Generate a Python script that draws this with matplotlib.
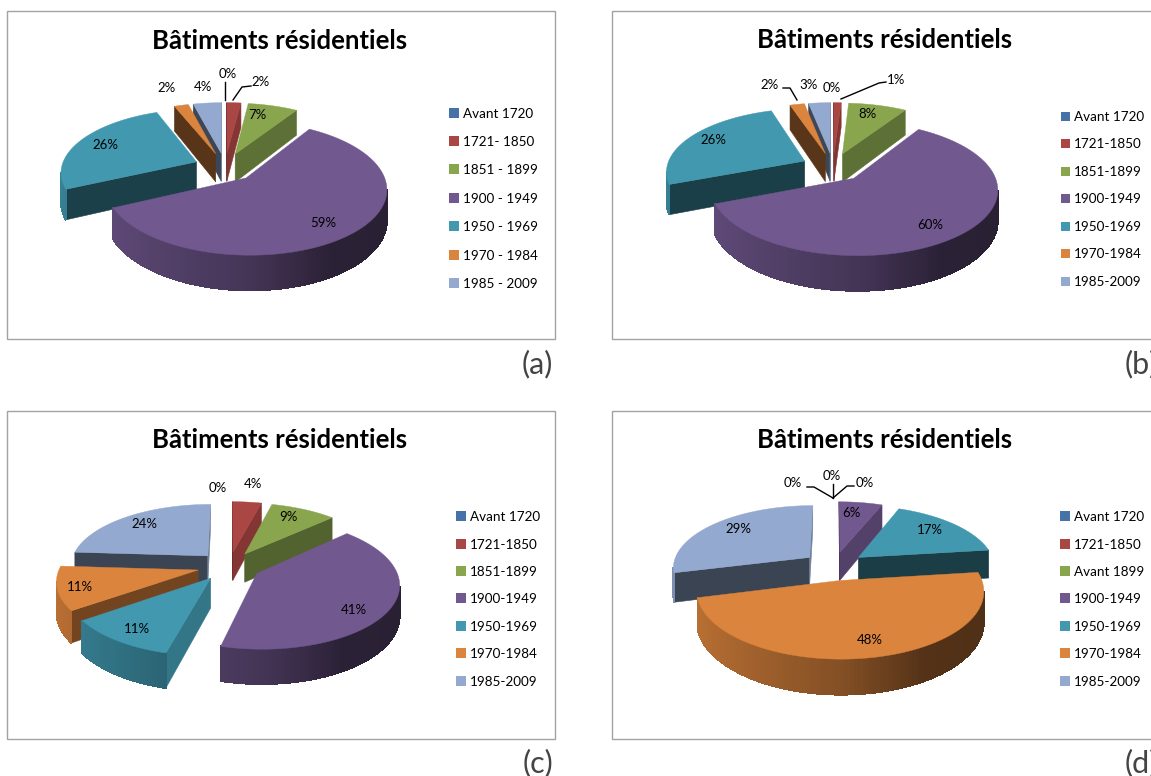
import numpy as np
import matplotlib
matplotlib.use('Agg')
import matplotlib.pyplot as plt
from matplotlib.patches import Rectangle

plt.rcParams['font.family'] = ['Lato', 'DejaVu Sans']

colors = ['#4572a7', '#aa4643', '#89a54e', '#71588f', '#4198af', '#db843d', '#93a9cf']

values_a = [0, 2, 7, 59, 26, 2, 4]
values_b = [0, 1, 8, 60, 26, 2, 3]
values_c = [0, 4, 9, 41, 11, 11, 24]
values_d = [0, 0, 0, 6, 17, 48, 29]

legend_a = ['Avant 1720', '1721- 1850', '1851 - 1899', '1900 - 1949', '1950 - 1969', '1970 - 1984', '1985 - 2009']
legend_b = ['Avant 1720', '1721-1850', '1851-1899', '1900-1949', '1950-1969', '1970-1984', '1985-2009']
legend_c = ['Avant 1720', '1721-1850', '1851-1899', '1900-1949', '1950-1969', '1970-1984', '1985-2009']
legend_d = ['Avant 1720', '1721-1850', 'Avant 1899', '1900-1949', '1950-1969', '1970-1984', '1985-2009']

title = 'Bâtiments résidentiels'

# pie layout, all in pixels of the final image
PERSP = 0.15
EXPLODE = 0.23
DEPTH = 29

panels = [
    dict(values=values_a, legend=legend_a, letter='(a)', frame=(7, 11, 548, 328), title_x=280, title_y=41,
         center=(225, 167), rx=135, ry=62,
         swatch_x=449, swatch=10, legend_y=[114, 142, 170, 199, 227, 256, 284],
         letter_xy=(553, 364), letter_ha='right',
         label_xy=[(228, 74), (261, 82), (257, 115), (323, 223), (105, 145), (167, 88), (203, 87)],
         leaders={0: [(225, 82), (225, 100)], 1: [(251, 86), (242, 87), (233, 100)]}),
    dict(values=values_b, legend=legend_b, letter='(b)', frame=(612, 11, 560, 328), title_x=885, title_y=40,
         center=(833, 167), rx=138, ry=62,
         swatch_x=1061, swatch=9, legend_y=[117, 144, 172, 199, 227, 254, 282],
         letter_xy=(1125, 364), letter_ha='left',
         label_xy=[(832, 88), (896, 80), (868, 114), (930, 225), (713, 140), (770, 85), (809, 85)],
         leaders={1: [(886, 82), (879, 83), (841, 99)], 5: [(783, 88), (790, 88), (797, 100)]}),
    dict(values=values_c, legend=legend_c, letter='(c)', frame=(7, 411, 548, 328), title_x=280, title_y=440,
         center=(229, 566), rx=138, ry=62,
         swatch_x=456, swatch=10, legend_y=[517, 545, 572, 599, 627, 654, 682],
         letter_xy=(553, 763), letter_ha='right',
         label_xy=[(218, 488), (253, 484), (288, 517), (354, 610), (137, 629), (80, 587), (144, 524)],
         leaders={}),
    dict(values=values_d, legend=legend_d, letter='(d)', frame=(612, 411, 560, 328), title_x=885, title_y=440,
         center=(834, 566), rx=137, ry=62,
         swatch_x=1060, swatch=10, legend_y=[517, 545, 572, 599, 627, 654, 682],
         letter_xy=(1125, 763), letter_ha='left',
         label_xy=[(793, 483), (832, 476), (865, 483), (851, 513), (930, 530), (870, 640), (738, 529)],
         leaders={0: [(807, 487), (814, 487), (833, 498)],
                  1: [(833, 484), (833, 498)],
                  2: [(854, 486), (847, 486), (833, 498)]}),
]


def darken(color, f):
    r, g, b = matplotlib.colors.to_rgb(color)
    return (r * f, g * f, b * f)


def cut_shade(phi):
    return np.interp(phi % 360, [0, 104, 122, 137, 144, 155, 166, 248, 360],
                     [0.6, 0.78, 0.68, 0.6, 0.52, 0.42, 0.4, 0.4, 0.6])


def wall_shade(theta):
    return np.interp(np.sin(np.radians(theta)), [-1, 0, 0.5, 1], [0.85, 0.6, 0.38, 0.36])


def project(u, v, z, p):
    s = 1 + PERSP * v
    cx, cy = p['center']
    return cx + p['rx'] * u / s, cy - p['ry'] * v / s + z * DEPTH / s


def side_face(a, b, p):
    # a side face between two points of the top rim, None when it faces away
    pts = [project(a[0], a[1], 0, p), project(b[0], b[1], 0, p),
           project(b[0], b[1], 1, p), project(a[0], a[1], 1, p)]
    xs = np.array([q[0] for q in pts])
    ys = np.array([q[1] for q in pts])
    area = np.sum(xs * np.roll(ys, -1) - np.roll(xs, -1) * ys)
    return (xs, ys) if area < 0 else None


def draw_slice(ax, t1, t2, color, p):
    mid = np.radians((t1 + t2) / 2)
    ou, ov = EXPLODE * np.sin(mid), EXPLODE * np.cos(mid)
    thetas = np.linspace(t1, t2, max(3, int((t2 - t1) / 1.5) + 1))
    rim = [(ou + np.sin(np.radians(t)), ov + np.cos(np.radians(t))) for t in thetas]
    apex = (ou, ov)

    # the two cut faces
    for a, b, phi in [(apex, rim[0], t1 - 90), (rim[-1], apex, t2 + 90)]:
        face = side_face(a, b, p)
        if face is not None:
            c = darken(color, cut_shade(phi))
            ax.fill(face[0], face[1], color=c, lw=0.4, zorder=3)

    # outer wall, one thin strip per step for the shading
    # no antialiasing here or the strips show as stripes
    for i in range(len(rim) - 1):
        face = side_face(rim[i], rim[i + 1], p)
        if face is not None:
            c = darken(color, wall_shade((thetas[i] + thetas[i + 1]) / 2))
            ax.fill(face[0], face[1], color=c, lw=0.6, antialiased=False, zorder=3)

    top = [project(u, v, 0, p) for u, v in [apex] + rim]
    ax.fill([q[0] for q in top], [q[1] for q in top], color=color, lw=0.3, zorder=3)


def draw_panel(ax, p):
    x, y, w, h = p['frame']
    ax.add_patch(Rectangle((x, y), w, h, fc='white', ec='#a3a3a3', lw=1.0, zorder=1))
    ax.text(p['title_x'], p['title_y'], title, fontsize=18.5, fontweight='bold',
            ha='center', va='center', color='black', zorder=5)

    vals = np.array(p['values'], dtype=float)
    edges = np.concatenate([[0], np.cumsum(vals)]) / vals.sum() * 360
    slices = [(edges[i], edges[i + 1], colors[i]) for i in range(len(vals)) if vals[i] > 0]
    # paint from the back of the pie to the front
    slices.sort(key=lambda s: -np.cos(np.radians((s[0] + s[1]) / 2)))
    for t1, t2, c in slices:
        draw_slice(ax, t1, t2, c, p)

    for i, val in enumerate(p['values']):
        lx, ly = p['label_xy'][i]
        ax.text(lx, ly, f'{val}%', fontsize=9.5, ha='center', va='center', color='black', zorder=6)
    for pts in p['leaders'].values():
        ax.plot([q[0] for q in pts], [q[1] for q in pts], color='black', lw=1.0, zorder=6)

    s = p['swatch']
    for i, name in enumerate(p['legend']):
        ly = p['legend_y'][i]
        ax.add_patch(Rectangle((p['swatch_x'], ly - s / 2 - 1), s, s, fc=colors[i], ec='none', zorder=4))
        ax.text(p['swatch_x'] + s + 4, ly, name, fontsize=9.7, ha='left', va='center', zorder=5)

    ax.text(p['letter_xy'][0], p['letter_xy'][1], p['letter'], fontsize=22,
            ha=p['letter_ha'], va='center', color='#444444', zorder=5)


fig = plt.figure(figsize=(11.51, 7.76), dpi=100)
ax = fig.add_axes([0, 0, 1, 1])
ax.set_xlim(0, 1151)
ax.set_ylim(776, 0)
ax.axis('off')

for p in panels:
    draw_panel(ax, p)

fig.savefig('out.png', dpi=100, facecolor='white')
